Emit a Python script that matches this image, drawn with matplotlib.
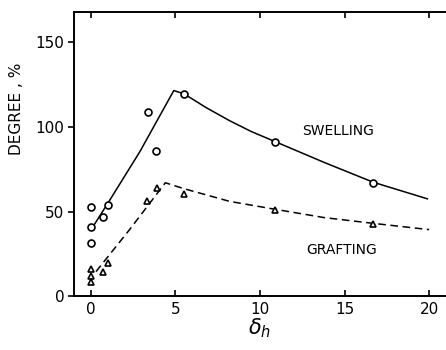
import matplotlib.pyplot as plt

# measured points
swell_x = [0, 0, 0, 0.7, 1.0, 3.35, 3.85, 5.5, 10.9, 16.7]
swell_y = [52.5, 41, 31.5, 46.5, 54, 109, 85.5, 119.5, 91, 67]
graft_x = [0, 0, 0, 0.7, 1.0, 3.3, 3.9, 5.5, 10.9, 16.7]
graft_y = [16, 12, 8.5, 14, 19.5, 56, 64, 60.5, 51, 42.7]

# hand-drawn trend lines
swell_fit_x = [0.15, 1.1, 2.9, 4.9, 5.5, 6.8, 8.2, 9.5, 10.9, 13.8, 16.7, 19.9]
swell_fit_y = [41.5, 56.5, 85.5, 121.5, 119.6, 111.5, 103.7, 97.2, 91.3, 79, 67.3, 57.5]
graft_fit_x = [0.3, 2.3, 4.4, 5.5, 8.2, 10.9, 13.8, 16.7, 20.0]
graft_fit_y = [14.5, 39.5, 67, 63.5, 56, 51.3, 46.4, 43, 39.3]

xticks = [0, 5, 10, 15, 20]
yticks = [0, 50, 100, 150]

fig = plt.figure(figsize=(4.46, 3.5), dpi=100)
ax = fig.add_axes([0.166, 0.154, 0.834, 0.812])

ax.plot(swell_fit_x, swell_fit_y, color='black', linewidth=1.1)
ax.plot(graft_fit_x, graft_fit_y, color='black', linewidth=1.1, dashes=(5, 3))
ax.plot(swell_x, swell_y, linestyle='none', marker='o', markersize=5,
        markerfacecolor='white', markeredgecolor='black', markeredgewidth=1.2)
ax.plot(graft_x, graft_y, linestyle='none', marker='^', markersize=5,
        markerfacecolor='white', markeredgecolor='black', markeredgewidth=1.2)

ax.text(14.6, 97.5, 'SWELLING', ha='center', va='center', fontsize=10)
ax.text(14.85, 27.5, 'GRAFTING', ha='center', va='center', fontsize=10)

ax.set_xlim(-1, 21)
ax.set_ylim(0, 168)
ax.set_xticks(xticks)
ax.set_yticks(yticks)
ax.tick_params(axis='both', labelsize=11, width=1.2)
ax.tick_params(axis='x', direction='in', top=True, length=4, pad=4)
ax.tick_params(axis='y', direction='out', length=4, pad=3)
ax.spines['right'].set_visible(False)
for s in ['left', 'top', 'bottom']:
    ax.spines[s].set_linewidth(1.4)

ax.set_xlabel(r'$\delta_h$', fontsize=15, labelpad=0)
ax.set_ylabel('DEGREE , %', fontsize=11)
ax.yaxis.set_label_coords(-0.135, 0.66)

fig.savefig('out.png', dpi=100)
